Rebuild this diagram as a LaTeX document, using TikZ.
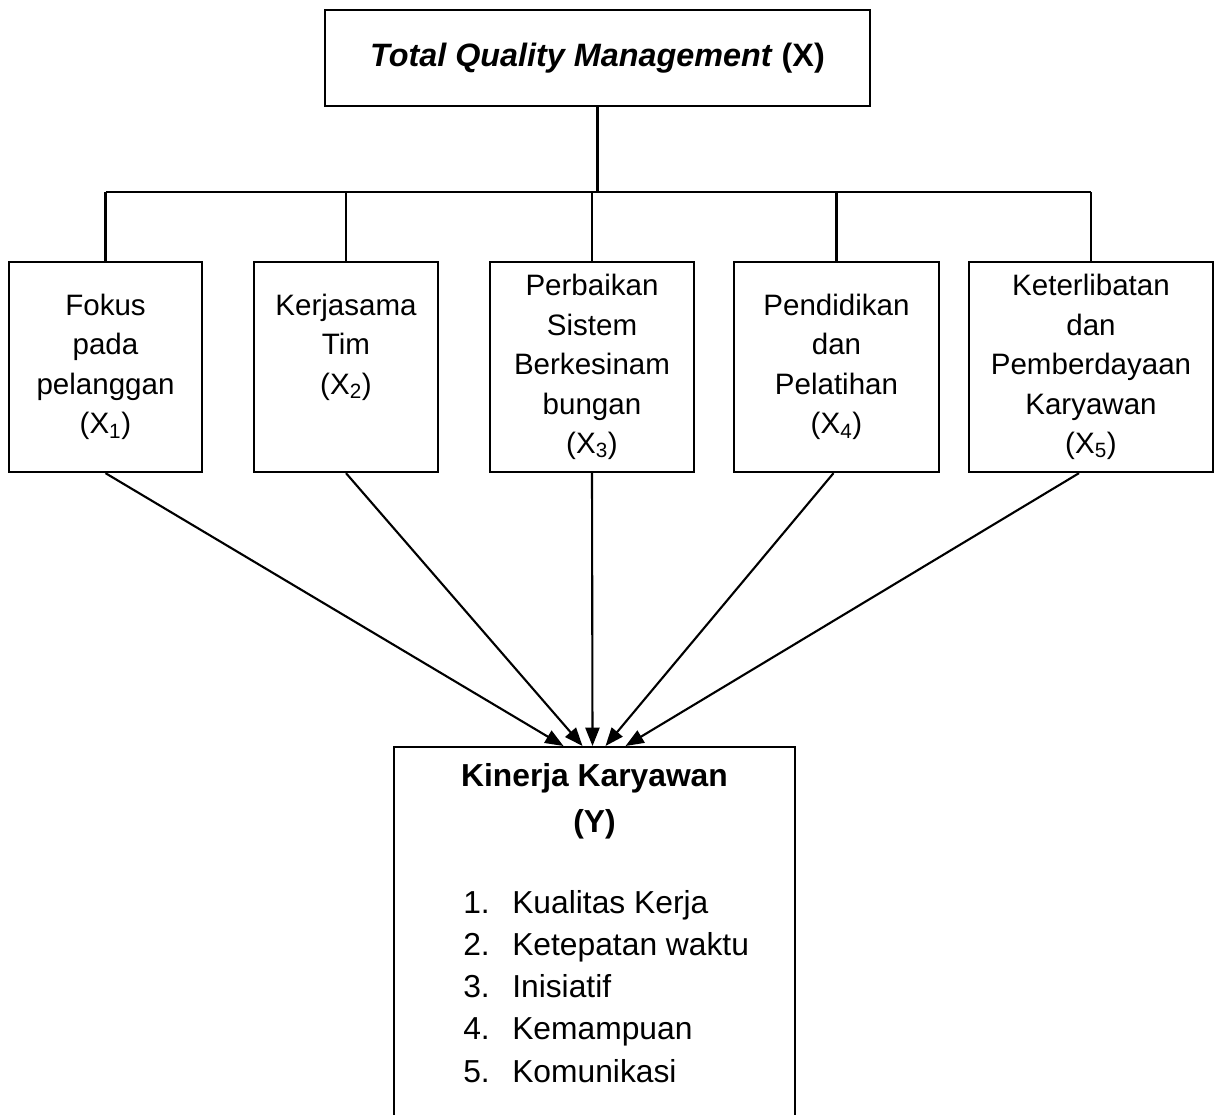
\documentclass[tikz,border=0pt]{standalone}
\usepackage{fontspec}
\setmainfont{Liberation Sans}
\usetikzlibrary{arrows.meta,calc}

\begin{document}
\begin{tikzpicture}[x=0.025cm, y=-0.025cm, >={Triangle[length=13pt,width=10pt]},
  kotak/.style={draw, line width=1.6pt, align=center, inner sep=0pt, minimum height=5.25cm, font=\fontsize{21}{28}\selectfont},
  garis/.style={line width=1.5pt},
  butir/.style={inner sep=0pt, anchor=base west, font=\fontsize{22.6}{26}\selectfont}]
  \clip (0,0) rectangle (1216,1115);
  % variabel X
  \node[draw, line width=1.6pt, minimum width=13.625cm, minimum height=2.4cm, font=\fontsize{23}{26}\selectfont\bfseries] (tqm) at (597.5,58) {\textit{Total Quality Management} (X)};
  % dimensi
  \node[kotak, minimum width=4.825cm] (f1) at (105.5,367) {Fokus\\pada\\pelanggan\\(X\textsubscript{1})};
  \node[kotak, minimum width=4.6cm] (f2) at (346,367) {Kerjasama\\Tim\\(X\textsubscript{2})\\\phantom{(X)}};
  \node[kotak, minimum width=5.1cm] (f3) at (592,367) {Perbaikan\\Sistem\\Berkesinam\\bungan\\(X\textsubscript{3})};
  \node[kotak, minimum width=5.125cm] (f4) at (836.5,367) {Pendidikan\\dan\\Pelatihan\\(X\textsubscript{4})};
  \node[kotak, minimum width=6.1cm] (f5) at (1091,367) {Keterlibatan\\dan\\Pemberdayaan\\Karyawan\\(X\textsubscript{5})};
  % cabang
  \coordinate (bar) at (595,192);
  \draw[garis] (tqm.south) -- (tqm.south |- bar);
  \draw[garis] (f1.north |- bar) -- (f5.north |- bar);
  \foreach \i in {1,...,5}
    \draw[garis] (f\i.north) -- (f\i.north |- bar);
  % variabel Y
  \node[draw, line width=1.6pt, minimum width=10.025cm, minimum height=10.5cm, anchor=north] (kinerja) at (594.5,746) {};
  \node[inner sep=0pt, anchor=north, align=center, font=\fontsize{22.6}{33}\selectfont\bfseries] (judul) at (594.5,763) {Kinerja Karyawan\\(Y)};
  \foreach \i/\txt in {1/Kualitas Kerja, 2/Ketepatan waktu, 3/Inisiatif, 4/Kemampuan, 5/Komunikasi}{
    \node[butir] (no\i) at (463,{871+42.2*\i}) {\i.};
    \node[butir] (ind\i) at (512,{871+42.2*\i}) {\txt};
  }
  % panah
  \foreach \i/\sx/\dx in {1/0/-31, 2/0/-12, 3/0/-2, 4/-3/11, 5/-12/31}
    \draw[garis,->] ($(f\i.south)+(\sx,0)$) -- ($(kinerja.north)+(\dx,0)$);
\end{tikzpicture}
\end{document}
